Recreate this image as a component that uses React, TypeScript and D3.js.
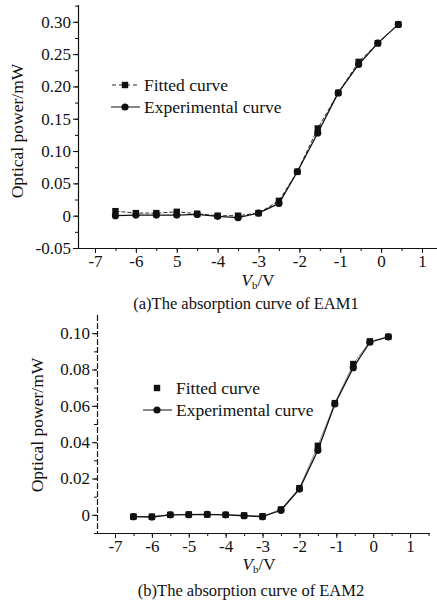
import React, { useRef, useEffect } from 'react';
import * as d3 from 'd3';

// bias voltage points (V)
const voltsA = [-6.5, -6, -5.5, -5, -4.5, -4, -3.5, -3, -2.5, -2.05, -1.55, -1.05, -0.55, -0.08, 0.42];
const fittedA = [0.007, 0.004, 0.004, 0.006, 0.003, 0.0, 0.0, 0.004, 0.023, 0.068, 0.135, 0.19, 0.238, 0.267, 0.296];
const experimentalA = [0.0, 0.001, 0.001, 0.001, 0.002, -0.001, -0.003, 0.004, 0.019, 0.068, 0.128, 0.19, 0.234, 0.267, 0.296];

const voltsB = [-6.5, -6, -5.5, -5, -4.5, -4, -3.5, -3, -2.5, -2, -1.5, -1.04, -0.54, -0.09, 0.41];
const fittedB = [-0.001, -0.001, 0.0, 0.0002, 0.0002, 0.0, -0.0003, -0.0008, 0.003, 0.0147, 0.038, 0.0615, 0.083, 0.0955, 0.098];
const experimentalB = [-0.001, -0.0012, 0.0, 0.0001, 0.0002, 0.0, -0.0005, -0.001, 0.0025, 0.0142, 0.0355, 0.061, 0.081, 0.095, 0.098];

const xTickValues = [-7, -6, -5, -4, -3, -2, -1, 0, 1];
const xTickLabelsA = ['-7', '-6', '5', '-4', '-3', '-2', '-1', '0', '1'];
const xTickLabelsB = ['-7', '-6', '-5', '-4', '-3', '-2', '-1', '0', '1'];
const yTicksA = [-0.05, 0, 0.05, 0.1, 0.15, 0.2, 0.25, 0.3];
const yTickLabelsA = ['-0.05', '0', '0.05', '0.10', '0.15', '0.20', '0.25', '0.30'];
const yTicksB = [0, 0.02, 0.04, 0.06, 0.08, 0.1];
const yTickLabelsB = ['0', '0.02', '0.04', '0.06', '0.08', '0.10'];

const legendLabels = ['Fitted curve', 'Experimental curve'];
const captions = ['(a)The absorption curve of EAM1', '(b)The absorption curve of EAM2'];

const FONT = "'Liberation Serif', 'Times New Roman', serif";

const App = () => {
  const svgRef = useRef<SVGSVGElement>(null);

  useEffect(() => {
    const svg = d3.select(svgRef.current);
    svg.selectAll('*').remove();

    const panels = [
      {
        volts: voltsA, fitted: fittedA, experimental: experimentalA,
        xDomain: [-7.416, 1.367], xRange: [78, 437],
        yDomain: [-0.05, 0.326], yRange: [248, 5],
        xLabels: xTickLabelsA, yTicks: yTicksA, yLabels: yTickLabelsA,
        yMinorStep: 0.025, xLabelPad: 2,
        legend: { x: 125, y: 85, fittedLine: true },
        ylabel: { x: 17, y: 131 }, vb: { x: 258, y: 286 }, caption: { x: 246, y: 309, text: captions[0] },
        fittedStyle: { stroke: '#111', dash: '4,2', width: 0.9 },
        yAxisDash: null,
      },
      {
        volts: voltsB, fitted: fittedB, experimental: experimentalB,
        xDomain: [-7.488, 1.54], xRange: [97, 430],
        yDomain: [-0.01, 0.11], yRange: [533, 315],
        xLabels: xTickLabelsB, yTicks: yTicksB, yLabels: yTickLabelsB,
        yMinorStep: 0.01, xLabelPad: 2,
        legend: { x: 157, y: 388, fittedLine: false },
        ylabel: { x: 37, y: 425 }, vb: { x: 259, y: 570 }, caption: { x: 251, y: 596, text: captions[1] },
        fittedStyle: { stroke: '#777', dash: null, width: 0.8 },
        yAxisDash: '6,2',
      },
    ];

    panels.forEach(p => {
      const x = d3.scaleLinear().domain(p.xDomain).range(p.xRange);
      const y = d3.scaleLinear().domain(p.yDomain).range(p.yRange);
      const g = svg.append('g');

      // minor ticks
      const xMinor = d3.range(-7.5, 1.6, 0.5).filter(v => v >= p.xDomain[0] && v <= p.xDomain[1]);
      g.append('g')
        .attr('transform', `translate(0,${p.yRange[0]})`)
        .call(d3.axisBottom(x).tickValues(xMinor).tickSize(3).tickFormat(() => ''))
        .call(a => a.select('.domain').remove());
      const yMinor = d3.range(p.yDomain[0], p.yDomain[1], p.yMinorStep);
      g.append('g')
        .attr('transform', `translate(${p.xRange[0]},0)`)
        .call(d3.axisLeft(y).tickValues(yMinor).tickSize(3).tickFormat(() => ''))
        .call(a => a.select('.domain').remove());

      // x axis
      const xAxis = g.append('g')
        .attr('transform', `translate(0,${p.yRange[0]})`)
        .call(d3.axisBottom(x).tickValues(xTickValues).tickSize(5).tickPadding(p.xLabelPad)
          .tickFormat((_, i) => p.xLabels[i]));
      xAxis.select('.domain').attr('d', `M${p.xRange[0]},0.5H${p.xRange[1]}`);

      // y axis
      const yAxis = g.append('g')
        .attr('transform', `translate(${p.xRange[0]},0)`)
        .call(d3.axisLeft(y).tickValues(p.yTicks).tickSize(5).tickPadding(2)
          .tickFormat((_, i) => p.yLabels[i]));
      yAxis.select('.domain').attr('d', `M0.5,${p.yRange[1]}V${p.yRange[0]}`)
        .attr('stroke-dasharray', p.yAxisDash);

      g.selectAll('.tick line').attr('stroke', '#111');
      g.selectAll('.domain').attr('stroke', '#111').attr('stroke-width', 1.2);
      g.selectAll('.tick text').style('font-family', FONT).style('font-size', '17px').attr('fill', '#111');

      const line = d3.line<number>().x((_, i) => x(p.volts[i])).y(d => y(d));

      // fitted curve
      g.append('path').datum(p.fitted).attr('d', line).attr('fill', 'none')
        .attr('stroke', p.fittedStyle.stroke).attr('stroke-width', p.fittedStyle.width)
        .attr('stroke-dasharray', p.fittedStyle.dash);
      // experimental curve
      g.append('path').datum(p.experimental).attr('d', line).attr('fill', 'none')
        .attr('stroke', '#111').attr('stroke-width', 1.3);

      g.selectAll('.sq').data(p.fitted).enter().append('rect')
        .attr('x', (_, i) => x(p.volts[i]) - 3.2).attr('y', d => y(d) - 3.2)
        .attr('width', 6.4).attr('height', 6.4).attr('fill', '#111');
      g.selectAll('.ci').data(p.experimental).enter().append('circle')
        .attr('cx', (_, i) => x(p.volts[i])).attr('cy', d => y(d))
        .attr('r', 3.6).attr('fill', '#111');

      // legend
      const lg = g.append('g').style('font-family', FONT).style('font-size', '17.5px').attr('fill', '#111');
      if (p.legend.fittedLine) {
        lg.append('line').attr('x1', p.legend.x - 13).attr('x2', p.legend.x + 14)
          .attr('y1', p.legend.y).attr('y2', p.legend.y)
          .attr('stroke', '#111').attr('stroke-dasharray', '4,3').attr('stroke-width', 0.9);
      }
      lg.append('rect').attr('x', p.legend.x - 3.2).attr('y', p.legend.y - 3.2)
        .attr('width', 6.4).attr('height', 6.4);
      lg.append('text').attr('x', p.legend.x + 19).attr('y', p.legend.y + 6).text(legendLabels[0]);
      const ey = p.legend.y + 22;
      lg.append('line').attr('x1', p.legend.x - 14).attr('x2', p.legend.x + 15)
        .attr('y1', ey).attr('y2', ey).attr('stroke', '#111').attr('stroke-width', 1);
      lg.append('circle').attr('cx', p.legend.x).attr('cy', ey).attr('r', 3.6);
      lg.append('text').attr('x', p.legend.x + 19).attr('y', ey + 6).text(legendLabels[1]);

      // axis titles
      g.append('text')
        .attr('transform', `translate(${p.ylabel.x + 6},${p.ylabel.y}) rotate(-90)`)
        .attr('text-anchor', 'middle').style('font-family', FONT).style('font-size', '17.5px')
        .attr('fill', '#111').text('Optical power/mW');

      const vb = g.append('text').attr('x', p.vb.x).attr('y', p.vb.y)
        .attr('text-anchor', 'middle').style('font-family', FONT).style('font-size', '17px').attr('fill', '#111');
      vb.append('tspan').style('font-style', 'italic').text('V');
      vb.append('tspan').style('font-size', '11px').attr('dy', 3).text('b');
      vb.append('tspan').attr('dy', -3).text('/V');

      g.append('text').attr('x', p.caption.x).attr('y', p.caption.y)
        .attr('text-anchor', 'middle').style('font-family', FONT).style('font-size', '16.5px')
        .attr('fill', '#111').text(p.caption.text);
    });
  }, []);

  return (
    <svg ref={svgRef} width={437} height={604}
      style={{ position: 'absolute', left: 0, top: 0, background: '#fff' }} />
  );
};

export default App;
